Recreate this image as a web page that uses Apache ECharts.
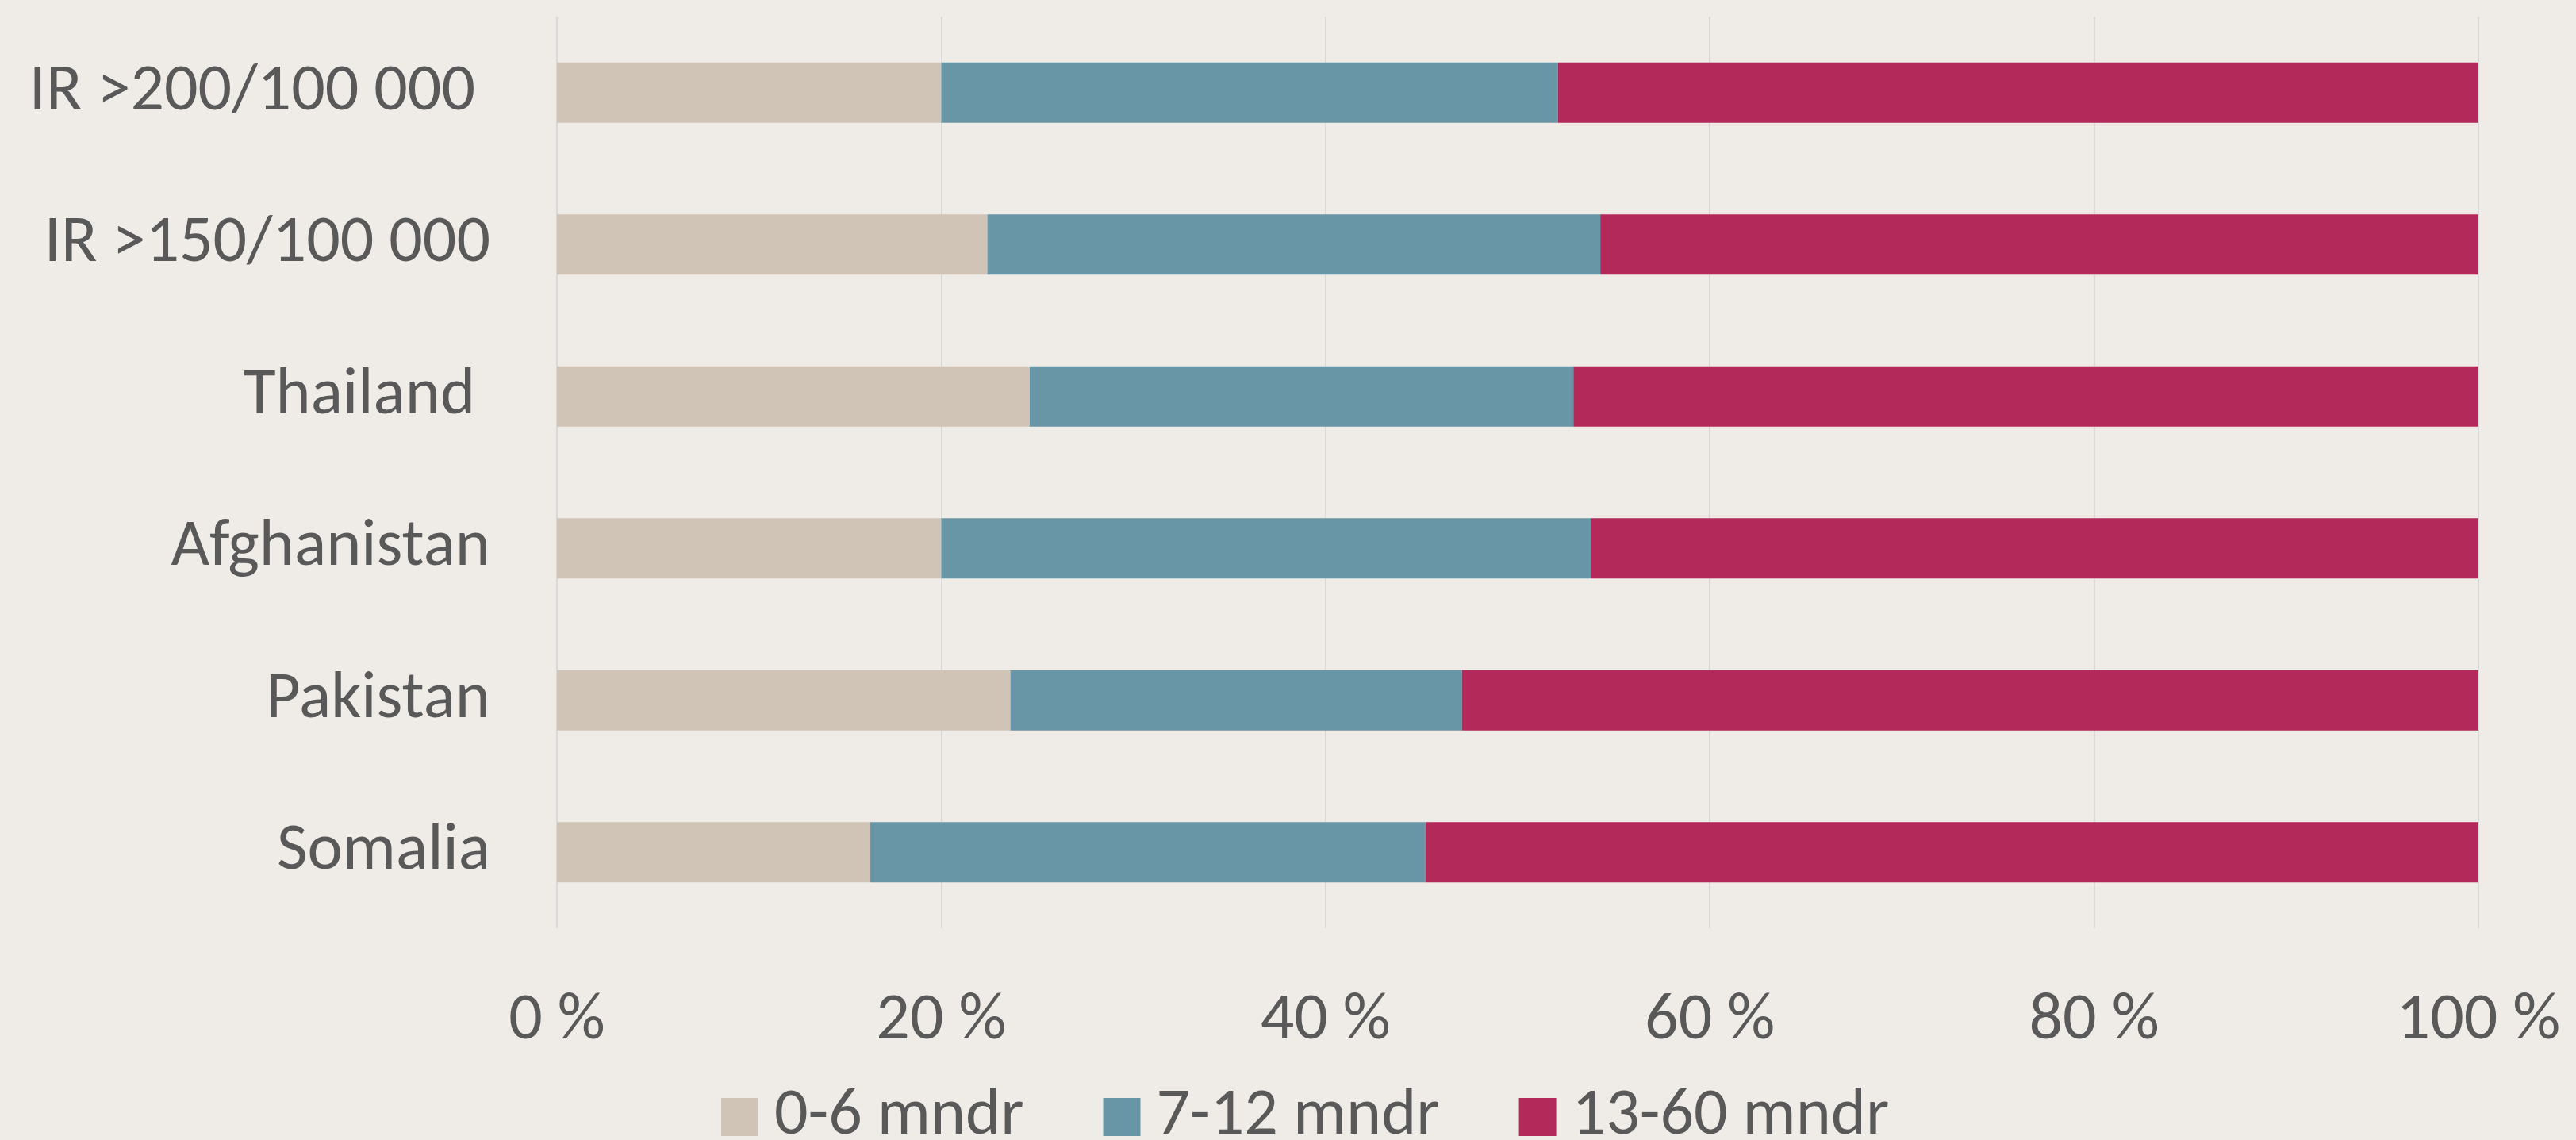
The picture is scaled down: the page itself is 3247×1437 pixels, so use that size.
<!DOCTYPE html>
<html>
<head>
<meta charset="utf-8">
<script src="https://cdn.jsdelivr.net/npm/echarts@6/dist/echarts.min.js"></script>
<style>
html,body{margin:0;padding:0;background:#EFECE7;}
#chart{width:3247px;height:1437px;}
</style>
</head>
<body>
<div id="chart"></div>
<script>
// Categories, bottom to top
const categories = ['Somalia', 'Pakistan', 'Afghanistan', 'Thailand ', 'IR >150/100 000', 'IR >200/100 000 '];
const seriesNames = ['0-6 mndr', '7-12 mndr', '13-60 mndr'];
const months0to6 = [16.3, 23.6, 20.0, 24.6, 22.4, 20.0];
const months7to12 = [28.9, 23.5, 33.8, 28.3, 31.9, 32.1];
const months13to60 = [54.8, 52.9, 46.2, 47.1, 45.7, 47.9];
const xTicks = [0, 20, 40, 60, 80, 100];

const FONT = "Carlito, 'Liberation Sans Narrow', 'DejaVu Sans Condensed', sans-serif";
const TEXT = '#595959';
const colors = ['#D0C4B6', '#6896A6', '#B32A5A'];

const chart = echarts.init(document.getElementById('chart'), null, {renderer: 'canvas'});
const dataSets = [months0to6, months7to12, months13to60];
chart.setOption({
  backgroundColor: '#EFECE7',
  animation: false,
  grid: {left: 702, right: 123, top: 21, bottom: 267, containLabel: false},
  legend: {
    data: seriesNames,
    left: 909,
    top: 1366,
    padding: 0,
    itemWidth: 47,
    itemHeight: 48,
    itemGap: 100,
    icon: 'rect',
    textStyle: {fontFamily: FONT, fontSize: 84, color: TEXT, padding: [0, 0, 0, 15]}
  },
  xAxis: {
    type: 'value',
    min: xTicks[0],
    max: xTicks[xTicks.length - 1],
    interval: 20,
    axisLine: {show: false},
    axisTick: {show: false},
    splitLine: {show: true, lineStyle: {color: '#D9D9D9', width: 2}},
    axisLabel: {
      margin: 76,
      fontFamily: FONT, fontSize: 84, color: TEXT,
      formatter: v => v + ' %'
    }
  },
  yAxis: {
    type: 'category',
    data: categories,
    axisLine: {show: false},
    axisTick: {show: false},
    splitLine: {show: false},
    axisLabel: {margin: 84, fontFamily: FONT, fontSize: 84, color: TEXT}
  },
  series: seriesNames.map((name, i) => ({
    name: name,
    type: 'bar',
    stack: 'total',
    barWidth: 76,
    itemStyle: {color: colors[i]},
    data: dataSets[i]
  }))
});
</script>
</body>
</html>
